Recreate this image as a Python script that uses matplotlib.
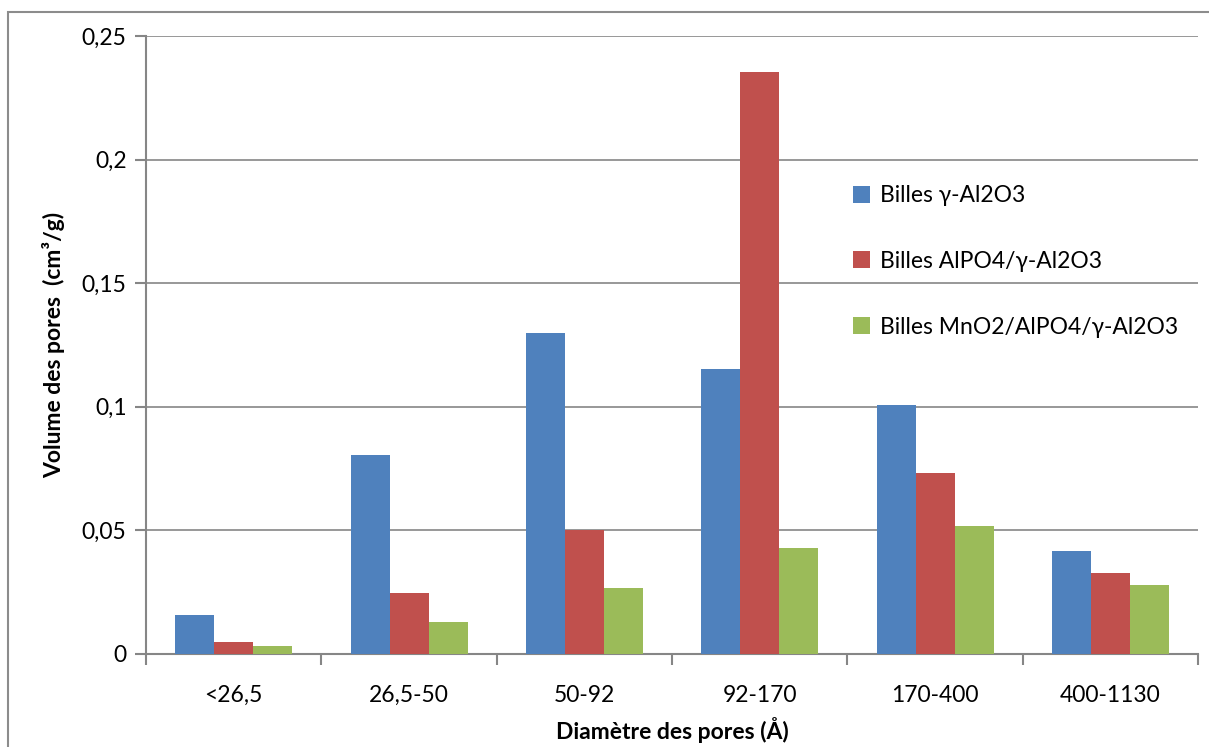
import matplotlib.pyplot as plt
import numpy as np
from matplotlib.patches import Rectangle

plt.rcParams['font.family'] = ['Lato', 'DejaVu Sans']

# Données
categories = ["<26,5", "26,5-50", "50-92", "92-170", "170-400", "400-1130"]
series = ["Billes γ-Al2O3", "Billes AlPO4/γ-Al2O3", "Billes MnO2/AlPO4/γ-Al2O3"]
billes_al2o3 = [0.0158, 0.0805, 0.1299, 0.1153, 0.1007, 0.0417]
billes_alpo4 = [0.0049, 0.0247, 0.0502, 0.2354, 0.0732, 0.0328]
billes_mno2 = [0.0032, 0.0129, 0.0267, 0.0429, 0.0518, 0.0279]
couleurs = ["#4F81BD", "#C0504D", "#9BBB59"]

fig = plt.figure(figsize=(12.09, 7.47), dpi=100)
ax = fig.add_axes([0.1208, 0.1245, 0.8702, 0.8273])

# cadre du graphique
fig.patches.append(Rectangle((8 / 1209, -0.01), 1.2, 1 - 12 / 747 + 0.01,
                             transform=fig.transFigure, fill=False,
                             edgecolor="#8c8c8c", linewidth=1.5))

x = np.arange(len(categories))
w = 0.2225
for i, (vals, nom) in enumerate(zip([billes_al2o3, billes_alpo4, billes_mno2], series)):
    ax.bar(x + (i - 1) * w, vals, w, color=couleurs[i], label=nom, zorder=3)

ax.set_xlim(-0.5, len(categories) - 0.5)
ax.set_ylim(0, 0.25)
ax.set_yticks([0, 0.05, 0.1, 0.15, 0.2, 0.25])
ax.set_yticklabels(["0", "0,05", "0,1", "0,15", "0,2", "0,25"])
ax.set_xticks(x)
ax.set_xticklabels(categories)
ax.set_xticks(np.arange(-0.5, len(categories)), minor=True)
ax.tick_params(axis='x', which='major', length=0, pad=22, labelsize=16.5)
ax.tick_params(axis='x', which='minor', length=8, color="#868686", width=1.5)
ax.tick_params(axis='y', length=8, color="#868686", width=1.5, labelsize=16.5, pad=6)

ax.grid(axis='y', color="#868686", linewidth=1.2, zorder=0)
for s in ['top', 'right']:
    ax.spines[s].set_visible(False)
for s in ['left', 'bottom']:
    ax.spines[s].set_color("#868686")
    ax.spines[s].set_linewidth(1.5)

ax.set_xlabel("Diamètre des pores (Å)", fontsize=16.5, fontweight='bold', labelpad=8)
ax.set_ylabel("Volume des pores  (cm³/g)", fontsize=16.5, fontweight='bold', labelpad=12)

ax.legend(loc='upper left', bbox_to_anchor=(0.652, 0.792), frameon=False, fontsize=16.5,
          handlelength=0.75, handleheight=0.75, labelspacing=1.95, handletextpad=0.45)

plt.savefig("out.png", dpi=100)
